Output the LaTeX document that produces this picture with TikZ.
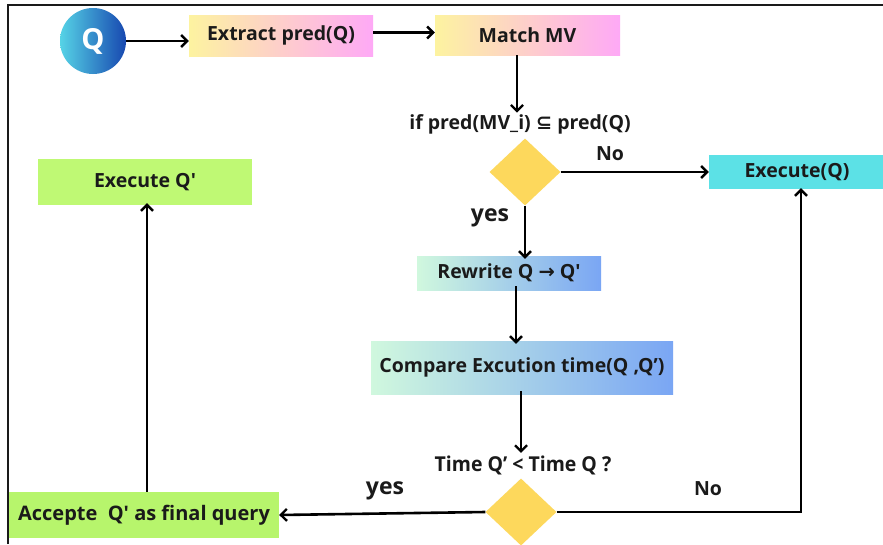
\documentclass[tikz,border=0pt]{standalone}
\usepackage{fontspec}
\setmainfont{Open Sans}
\newfontfamily\symbfont{DejaVu Sans}
\newfontfamily\narrowfont[FakeStretch=0.95]{Open Sans}
\usetikzlibrary{shapes.geometric,arrows.meta}
\definecolor{qL}{HTML}{56D3E6}
\definecolor{qR}{HTML}{1748B0}
\definecolor{warmL}{HTML}{FDF3A0}
\definecolor{warmR}{HTML}{FEA9F6}
\definecolor{coolL}{HTML}{D0F8DE}
\definecolor{coolR}{HTML}{7AA6F4}
\definecolor{cyanbox}{HTML}{5CE1E6}
\definecolor{limeA}{HTML}{B7F56C}
\definecolor{limeB}{HTML}{BFF974}
\definecolor{gold}{HTML}{FDD85C}
\definecolor{ink}{HTML}{1A1A1A}
\newcommand{\sq}{\textquotesingle}
\tikzset{
  box/.style={rectangle, inner sep=0pt, text=ink, font=\bfseries\fontsize{19.5}{22}\selectfont},
  warm/.style={box, left color=warmL, right color=warmR},
  cool/.style={box, left color=coolL, right color=coolR},
  decision/.style={diamond, fill=gold, inner sep=0pt, minimum width=71pt, minimum height=67pt},
  flow/.style={line width=2.6pt, draw=black, -{Straight Barb[length=6pt,width=12pt,line width=2.4pt]}},
  lbl/.style={text=ink, font=\bfseries\fontsize{19.5}{22}\selectfont},
  biglbl/.style={text=ink, font=\bfseries\fontsize{23}{26}\selectfont},
  narrowlbl/.style={text=ink, font=\narrowfont\bfseries\fontsize{20.5}{23}\selectfont}
}
\begin{document}
\begin{tikzpicture}[x=1pt, y=-1pt]
\useasboundingbox (0,0) rectangle (883,544);
\fill[white] (0,0) rectangle (883,544);

% process nodes
\node[circle, minimum size=66pt, inner sep=0pt, left color=qL, right color=qR,
      text=white, font=\bfseries\fontsize{29}{30}\selectfont] (q) at (93,41) {Q};
\node[warm, minimum width=184pt, minimum height=41pt] (extract) at (281,35.5) {Extract pred(Q)};
\node[warm, minimum width=185pt, minimum height=40pt] (match) at (527.5,35) {Match MV};
\node[lbl] (cond1) at (520,124) {if pred(MV\_i) {\symbfont\bfseries ⊆} pred(Q)};
\node[decision] (d1) at (525,172) {};
\node[box, fill=cyanbox, minimum width=176pt, minimum height=34pt] (exec) at (797,172) {Execute(Q)};
\node[cool, minimum width=184pt, minimum height=34pt] (rewrite) at (509,273) {Rewrite Q {\symbfont →} Q\sq};
\node[cool, minimum width=302pt, minimum height=53pt] (compare) at (522,367.5) {Compare Excution time(Q ,Q’)};
\node[narrowlbl] (cond2) at (523,465) {Time Q’ < Time Q ?};
\node[decision] (d2) at (521,512) {};
\node[box, fill=limeA, minimum width=270pt, minimum height=46pt,
      font=\bfseries\fontsize{20}{22}\selectfont] (accept) at (144,515) {Accepte\ \ Q\sq{} as final query};
\node[box, fill=limeB, minimum width=214pt, minimum height=46pt] (execp) at (145,182) {Execute Q\sq};

% branch labels
\node[lbl] (no1) at (610,154) {No};
\node[biglbl] (yes1) at (490,218) {yes};
\node[biglbl] (yes2) at (385,491) {yes};
\node[lbl] (no2) at (708,489) {No};

% x positions of vertical connectors
\coordinate (v1) at (517,0);
\coordinate (v2) at (516,0);
\coordinate (v3) at (521,0);
\coordinate (v4) at (801,0);
\coordinate (v5) at (147,0);

% connectors
\draw[flow] (q.east) -- (q.east -| extract.west);
\draw[flow] ([yshift=3pt]extract.east) -- ([yshift=3pt]extract.east -| match.west);
\draw[flow] (match.south -| v1) -- ([yshift=-2pt]cond1.north -| v1);
\draw[flow] (d1.east) -- (exec.west);
\draw[flow] (d1.south) -- ([yshift=-3pt]rewrite.north -| d1.south);
\draw[flow] ([yshift=4pt]rewrite.south -| v2) -- ([yshift=-3pt]compare.north -| v2);
\draw[flow] ([yshift=3pt]compare.south -| v3) -- ([yshift=-1pt]cond2.north -| v3);
\draw[flow] (d2.west) -- (accept.east);
\draw[flow] (d2.east) -| ([yshift=1pt]exec.south -| v4);
\draw[flow] (accept.north -| v5) -- ([yshift=2pt]execp.south -| v5);

% frame
\draw[line width=1.5pt, ink] (8,544) -- (8,5) -- (883,5);
\end{tikzpicture}
\end{document}
